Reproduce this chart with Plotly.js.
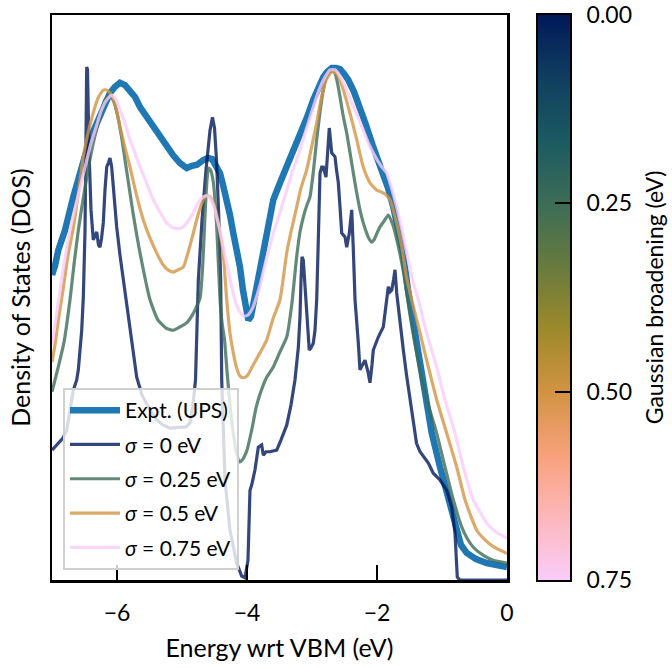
<!DOCTYPE html>
<html>
<head>
<meta charset="utf-8">
<script src="https://cdn.plot.ly/plotly-3.0.1.min.js"></script>
<style>html,body{margin:0;padding:0;background:#fff;}#chart{width:672px;height:668px;}</style>
</head>
<body>
<div id="chart"></div>
<script>
// ---- data ----
const energyUPS = [-7.000,-6.954,-6.903,-6.800,-6.672,-6.569,-6.466,-6.369,-6.262,-6.185,-6.108,-6.031,-5.954,-5.877,-5.800,-5.723,-5.646,-5.554,-5.446,-5.338,-5.231,-5.138,-5.031,-4.928,-4.846,-4.769,-4.677,-4.600,-4.538,-4.477,-4.415,-4.369,-4.312,-4.262,-4.211,-4.154,-4.108,-4.062,-4.015,-3.980,-3.938,-3.877,-3.815,-3.749,-3.677,-3.595,-3.492,-3.389,-3.292,-3.185,-3.077,-2.980,-2.908,-2.826,-2.769,-2.697,-2.631,-2.569,-2.508,-2.442,-2.354,-2.262,-2.169,-2.057,-1.985,-1.903,-1.831,-1.749,-1.677,-1.600,-1.523,-1.431,-1.338,-1.262,-1.158,-1.031,-0.903,-0.774,-0.708,-0.620,-0.477,-0.312,-0.154,0.000];
const dosUPS    = [54.0,55.6,58.4,61.9,67.8,72.2,76.1,79.3,81.9,84.4,86.2,87.3,88.0,87.6,86.7,85.5,83.7,82.1,80.2,78.4,76.6,75.2,73.8,72.9,73.3,73.5,74.3,74.7,74.5,73.5,72.0,69.9,67.3,64.6,61.4,58.4,55.4,51.3,47.4,46.0,46.7,50.4,54.5,57.2,62.3,67.3,70.3,73.1,76.1,79.1,81.9,85.0,87.1,89.0,89.9,90.6,90.6,90.4,89.6,88.5,86.4,83.7,80.5,76.6,74.3,72.0,69.4,66.0,62.3,57.9,51.3,45.1,38.6,32.2,26.0,20.0,14.2,8.3,6.2,4.8,3.7,3.0,2.6,2.3];

const energy0 = [-7.000,-6.908,-6.831,-6.774,-6.723,-6.672,-6.620,-6.595,-6.543,-6.518,-6.492,-6.477,-6.466,-6.454,-6.431,-6.400,-6.365,-6.338,-6.312,-6.285,-6.262,-6.238,-6.211,-6.185,-6.158,-6.131,-6.108,-6.082,-6.046,-6.005,-5.954,-5.903,-5.846,-5.800,-5.754,-5.697,-5.615,-5.492,-5.385,-5.288,-5.185,-5.031,-4.938,-4.877,-4.831,-4.792,-4.749,-4.692,-4.631,-4.569,-4.531,-4.500,-4.469,-4.438,-4.405,-4.389,-4.338,-4.262,-4.159,-4.082,-4.031,-3.985,-3.954,-3.928,-3.877,-3.826,-3.774,-3.749,-3.708,-3.646,-3.543,-3.477,-3.389,-3.323,-3.262,-3.210,-3.185,-3.169,-3.154,-3.134,-3.108,-3.082,-3.042,-3.015,-2.980,-2.954,-2.928,-2.903,-2.877,-2.851,-2.826,-2.785,-2.762,-2.734,-2.697,-2.646,-2.623,-2.595,-2.569,-2.543,-2.492,-2.466,-2.426,-2.389,-2.364,-2.338,-2.287,-2.262,-2.231,-2.185,-2.138,-2.108,-2.077,-2.057,-1.980,-1.903,-1.851,-1.826,-1.800,-1.774,-1.746,-1.723,-1.697,-1.646,-1.595,-1.546,-1.492,-1.446,-1.392,-1.338,-1.287,-1.210,-1.134,-1.077,-1.031,-0.928,-0.851,-0.800,-0.765,-0.723,0.000];
const dos0    = [23.0,24.1,25.1,26.5,29.7,33.6,35.4,37.2,44.2,50.1,61.9,76.1,90.8,90.3,76.1,65.5,60.2,60.9,61.6,59.3,58.9,60.5,63.2,69.0,73.1,73.9,74.7,73.1,68.1,62.5,57.5,53.1,48.7,44.2,39.8,35.9,32.7,30.1,28.3,27.4,26.9,27.1,27.1,27.8,31.0,35.4,53.1,63.7,72.6,79.6,81.9,80.0,74.3,65.5,53.1,35.4,17.7,8.8,3.0,0.7,0.4,3.5,15.9,16.8,19.5,23.5,23.9,22.1,22.7,22.7,23.0,24.8,27.4,31.0,35.4,41.2,46.5,53.1,57.2,56.6,52.2,47.8,40.7,41.1,41.9,44.2,49.6,60.2,72.0,73.1,73.1,71.3,76.1,80.0,75.6,74.9,72.6,70.3,66.0,61.4,60.7,58.9,61.4,65.5,58.4,49.6,41.9,37.2,37.9,38.9,36.8,34.9,38.1,40.7,43.0,44.8,49.6,51.9,51.0,51.3,53.1,54.9,50.8,45.1,40.7,36.3,31.9,28.0,24.2,22.7,21.8,20.7,18.9,18.2,17.7,15.9,12.9,8.3,0.5,0.0,0.0];

const energy025 = [-7.000,-6.908,-6.815,-6.723,-6.662,-6.595,-6.523,-6.446,-6.354,-6.262,-6.185,-6.108,-6.046,-5.985,-5.923,-5.846,-5.754,-5.646,-5.492,-5.369,-5.246,-5.134,-5.031,-4.928,-4.831,-4.723,-4.677,-4.646,-4.615,-4.592,-4.562,-4.518,-4.466,-4.415,-4.384,-4.346,-4.305,-4.254,-4.203,-4.162,-4.115,-4.077,-4.005,-3.928,-3.862,-3.800,-3.697,-3.595,-3.492,-3.389,-3.312,-3.236,-3.185,-3.134,-3.077,-3.031,-2.980,-2.928,-2.877,-2.826,-2.785,-2.749,-2.692,-2.646,-2.608,-2.569,-2.523,-2.466,-2.415,-2.364,-2.315,-2.262,-2.211,-2.159,-2.123,-2.082,-2.046,-2.000,-1.954,-1.892,-1.826,-1.754,-1.677,-1.585,-1.492,-1.369,-1.235,-1.082,-0.954,-0.826,-0.697,-0.615,-0.518,-0.369,-0.210,0.000];
const dos025    = [33.3,37.5,42.1,49.6,55.8,61.9,67.3,72.6,77.9,82.0,85.0,85.8,84.6,81.9,77.9,72.0,65.0,57.9,49.6,46.0,44.6,44.2,44.8,45.5,47.1,49.9,56.6,64.6,70.8,72.9,72.6,70.4,62.5,49.6,45.5,42.5,36.6,30.1,25.3,22.5,20.9,21.2,22.8,26.5,30.4,32.9,35.9,37.7,40.4,43.0,48.7,57.2,61.6,64.2,66.4,67.8,72.2,77.9,82.8,86.7,88.8,89.7,90.3,89.7,88.0,85.5,82.3,79.1,75.6,72.0,68.7,65.5,63.2,61.4,60.4,59.8,60.2,61.4,62.5,63.5,64.6,62.8,59.3,54.0,46.9,38.9,31.9,26.0,20.0,14.2,9.4,7.4,5.8,4.4,3.5,3.0];

const energy05 = [-7.000,-6.954,-6.903,-6.831,-6.754,-6.672,-6.600,-6.518,-6.446,-6.365,-6.292,-6.211,-6.154,-6.082,-6.015,-5.954,-5.877,-5.800,-5.708,-5.595,-5.492,-5.390,-5.292,-5.215,-5.134,-5.062,-4.980,-4.908,-4.826,-4.754,-4.672,-4.620,-4.569,-4.518,-4.466,-4.415,-4.364,-4.312,-4.262,-4.211,-4.159,-4.108,-4.056,-4.000,-3.903,-3.800,-3.697,-3.595,-3.492,-3.389,-3.323,-3.236,-3.169,-3.082,-3.015,-2.928,-2.862,-2.800,-2.749,-2.697,-2.631,-2.569,-2.508,-2.442,-2.377,-2.311,-2.262,-2.211,-2.159,-2.108,-2.057,-2.005,-1.938,-1.877,-1.800,-1.708,-1.615,-1.554,-1.466,-1.338,-1.210,-1.082,-0.928,-0.774,-0.646,-0.466,-0.338,-0.210,0.000];
const dos05    = [38.6,41.6,46.0,51.3,57.5,62.3,68.1,74.9,79.1,82.7,85.3,86.7,86.7,85.8,83.5,80.2,76.5,73.1,68.5,63.7,60.5,57.9,55.8,54.9,54.5,54.9,55.4,57.9,61.4,64.6,67.3,68.1,67.8,66.7,64.6,61.4,57.5,49.6,43.7,40.2,37.5,36.1,35.8,36.1,38.1,40.2,42.5,46.4,49.6,57.9,61.6,66.0,69.4,72.6,76.1,80.9,85.0,88.0,89.2,89.9,89.7,88.5,86.4,83.7,80.9,77.9,75.4,73.1,71.5,70.3,69.6,69.0,68.7,68.3,67.3,63.7,58.8,54.0,49.6,43.7,37.7,31.9,26.0,20.0,14.2,8.8,7.1,5.9,4.7];

const energy075 = [-7.000,-6.938,-6.877,-6.800,-6.723,-6.646,-6.569,-6.477,-6.400,-6.312,-6.238,-6.158,-6.082,-6.015,-5.954,-5.877,-5.800,-5.723,-5.646,-5.546,-5.441,-5.338,-5.235,-5.134,-5.062,-4.980,-4.908,-4.826,-4.754,-4.672,-4.615,-4.569,-4.515,-4.466,-4.415,-4.364,-4.308,-4.235,-4.169,-4.108,-4.046,-3.985,-3.908,-3.800,-3.697,-3.595,-3.492,-3.389,-3.292,-3.185,-3.082,-2.980,-2.892,-2.800,-2.723,-2.646,-2.569,-2.492,-2.385,-2.262,-2.138,-2.015,-1.938,-1.851,-1.785,-1.697,-1.623,-1.543,-1.462,-1.364,-1.235,-1.082,-0.954,-0.800,-0.672,-0.518,-0.312,-0.169,0.000];
const dos075    = [41.6,46.4,51.3,57.0,61.9,65.8,69.4,73.8,77.3,80.5,83.2,85.0,85.8,85.0,83.2,80.9,77.9,75.6,73.1,70.3,67.3,65.1,63.2,62.3,62.2,62.5,63.5,65.0,66.7,67.8,68.0,67.6,66.4,64.2,61.8,58.9,55.8,51.9,49.0,47.4,46.7,46.9,48.3,52.2,57.0,61.4,65.1,69.0,72.6,76.1,80.0,83.7,86.7,89.0,90.3,90.3,89.2,87.4,84.4,81.1,77.5,74.7,73.3,72.0,69.7,66.0,62.3,57.9,53.5,49.6,43.7,37.7,31.9,26.0,20.0,14.2,10.1,8.5,7.4];

const broadening = [0, 0.25, 0.5, 0.75];          // eV, colour-bar levels
const broadeningLabels = ['0.00', '0.25', '0.50', '0.75'];
const seriesNames = ['Expt. (UPS)', '<i>σ</i> = 0 eV', '<i>σ</i> = 0.25 eV', '<i>σ</i> = 0.5 eV', '<i>σ</i> = 0.75 eV'];
const xTicks = [-6, -4, -2, 0];

// ---- style ----
const batlow = ['#011959','#103F60','#1C5A62','#3C6D56','#687B3E','#9D892B','#D29343','#F8A17B','#FDB7BC','#FACCFA'];
const colorscale = batlow.map((c, i) => [i / (batlow.length - 1), c]);
const lineColors = ['rgba(1,25,89,0.8)', 'rgba(60,109,86,0.8)', 'rgba(210,147,67,0.8)', 'rgba(250,204,250,0.8)'];
const FONT = 'Lato, "Noto Sans", sans-serif';

const sims = [[energy0, dos0, 'linear'], [energy025, dos025, 'spline'], [energy05, dos05, 'spline'], [energy075, dos075, 'spline']];

const traces = [{
  type: 'scatter', mode: 'lines', x: energyUPS, y: dosUPS, name: seriesNames[0],
  legendgroup: 'g0', line: {color: '#1f77b4', width: 6.5}, hoverinfo: 'skip'
}];
sims.forEach((s, i) => {
  traces.push({
    type: 'scatter', mode: 'lines', x: s[0], y: s[1], name: seriesNames[i + 1],
    legendgroup: 'g' + (i + 1),
    line: {color: lineColors[i], width: 3.2, shape: s[2], smoothing: 0.5}, hoverinfo: 'skip'
  });
});
traces.push({
  type: 'heatmap', xaxis: 'x2', yaxis: 'y2', x: [0, 1], y: broadening,
  z: broadening.map(b => [b, b]), zmin: 0, zmax: 0.75, zsmooth: 'best',
  colorscale: colorscale, showscale: false, showlegend: false, hoverinfo: 'skip'
});

const plotW = 672 - 52 - 102;
const layout = {
  width: 672, height: 668,
  margin: {l: 52, r: 102, t: 15, b: 88},
  paper_bgcolor: '#ffffff', plot_bgcolor: '#ffffff',
  font: {family: FONT, color: '#000000', size: 21},
  xaxis: {
    domain: [0, 455 / plotW], range: [-7, 0], tickvals: xTicks, ticktext: xTicks.map(v => v === 0 ? '0' : '\u2212' + Math.abs(v)),
    ticks: 'inside', ticklen: 15, tickwidth: 2.5, tickcolor: '#000',
    showline: true, linecolor: '#000', linewidth: 2.5, mirror: true,
    showgrid: false, zeroline: false, tickfont: {size: 23}, ticklabelstandoff: 11,
    title: {text: 'Energy wrt VBM (eV)', font: {size: 25}, standoff: 15}, automargin: false
  },
  yaxis: {
    domain: [0, 1], range: [0, 100], showticklabels: false, ticks: '',
    showline: true, linecolor: '#000', linewidth: 2.5, mirror: true,
    showgrid: false, zeroline: false,
    title: {text: 'Density of States (DOS)', font: {size: 25}, standoff: 12}, automargin: false
  },
  xaxis2: {
    domain: [486 / plotW, 1], anchor: 'y2', range: [0, 1], showticklabels: false, ticks: '',
    showline: true, linecolor: '#000', linewidth: 2, mirror: true, showgrid: false, zeroline: false
  },
  yaxis2: {
    domain: [0, 1], anchor: 'x2', side: 'right', range: [0.75, 0],
    tickvals: broadening, ticktext: broadeningLabels, ticks: 'inside', ticklen: 15, tickwidth: 2, tickcolor: '#000',
    showline: true, linecolor: '#000', linewidth: 2, mirror: true, showgrid: false, zeroline: false,
    tickfont: {size: 23}, ticklabelstandoff: 10,
    title: {text: 'Gaussian broadening (eV)', font: {size: 23}, standoff: 16}, automargin: false
  },
  showlegend: true,
  legend: {
    x: (63 - 52) / plotW, y: (580 - 388) / 565, xanchor: 'left', yanchor: 'top',
    bgcolor: 'rgba(255,255,255,0.8)', bordercolor: '#d0d0d0', borderwidth: 2,
    font: {size: 21, family: FONT}, traceorder: 'grouped', tracegroupgap: 4, itemwidth: 50
  }
};

Plotly.newPlot('chart', traces, layout, {staticPlot: true, displayModeBar: false});
</script>
</body>
</html>
